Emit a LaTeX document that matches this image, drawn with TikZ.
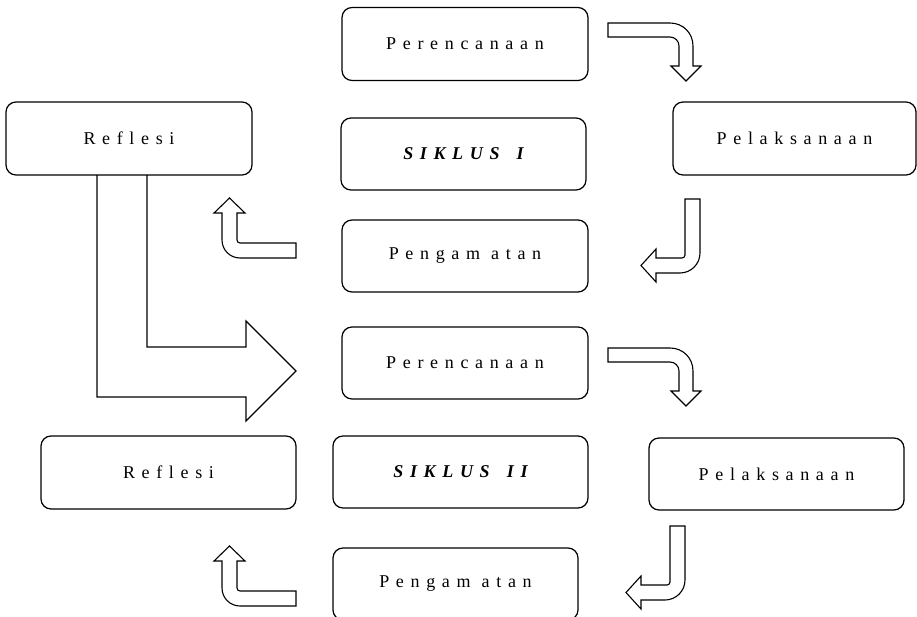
\documentclass[tikz,border=0pt]{standalone}
\usepackage{fontspec}
\setmainfont{Liberation Serif}
\newfontfamily\spacedfont[LetterSpace=37]{Liberation Serif}
\tikzset{
  stage/.style={draw, line width=1.25pt, rounded corners=10pt,
    minimum width=246pt, minimum height=73pt, inner sep=2pt,
    font=\spacedfont\fontsize{18}{20}\selectfont},
  cycle/.style={stage, font=\spacedfont\bfseries\itshape\fontsize{18}{20}\selectfont},
  hollow/.style={draw, line width=1.1pt, fill=white},
  turndown/.pic={
    \draw[hollow] (0,0) -- (62,0) .. controls (75,0) and (85,10) .. (85,23)
      -- (85,43) -- (93,43) -- (78,58) -- (63,43) -- (71,43) -- (71,23)
      .. controls (71,18) and (67,14) .. (62,14) -- (0,14) -- cycle;
  },
  turnup/.pic={
    \draw[hollow] (0,0) -- (-56,0) .. controls (-57.7,0) and (-59,-1.3) .. (-59,-3)
      -- (-59,-30) -- (-51,-30) -- (-66.5,-45) -- (-82,-30) -- (-74,-30) -- (-74,-3)
      .. controls (-74,7) and (-66,15) .. (-56,15) -- (0,15) -- cycle;
  },
  turnleft/.pic={
    \draw[hollow] (0,0) -- (15,0) -- (15,54) .. controls (15,65) and (6,74) .. (-5,74)
      -- (-29,74) -- (-29,83) -- (-44,66.5) -- (-29,50) -- (-29,59) -- (-3,59)
      .. controls (-1.3,59) and (0,57.7) .. (0,56) -- cycle;
  }
}
\begin{document}
\begin{tikzpicture}[x=1pt, y=-1pt]
  \useasboundingbox (0,0) rectangle (917,617);

  % siklus I
  \node[stage] (plan1) at (465,44) {Perencanaan};
  \node[stage] (refl1) at (129,138.5) {Reflesi};
  \node[cycle, minimum width=245pt, minimum height=72pt] (cyc1) at (463.5,154) {SIKLUS \hspace{6pt}I};
  \node[stage, minimum width=243pt] (act1) at (794.5,138.5) {Pelaksanaan};
  \node[stage, minimum height=72pt] (obs1) at (465,256) {Pengam atan};

  \pic at (608,23) {turndown};
  \pic at (685,199) {turnleft};
  \pic at (296,243) {turnup};

  % from Reflesi to the next cycle
  \draw[line width=1.1pt] (97,175) -- (97,397) -- (246,397) -- (246,421)
    -- (296,371) -- (246,321) -- (246,347) -- (147,347) -- (147,175);

  % siklus II
  \node[stage, minimum height=72pt] (plan2) at (465,363) {Perencanaan};
  \node[stage, minimum width=255pt] (refl2) at (168.5,472.5) {Reflesi};
  \node[cycle, minimum width=255pt, minimum height=72pt] (cyc2) at (460.5,472) {SIKLUS \hspace{6pt}II};
  \node[stage, minimum width=255pt, minimum height=72pt] (act2) at (776.5,474) {Pelaksanaan};
  \node[stage, minimum width=245pt, minimum height=72pt] (obs2) at (455.5,584) {Pengam atan};

  \pic at (608,348) {turndown};
  \pic at (670,526) {turnleft};
  \pic at (296,591) {turnup};
\end{tikzpicture}
\end{document}
